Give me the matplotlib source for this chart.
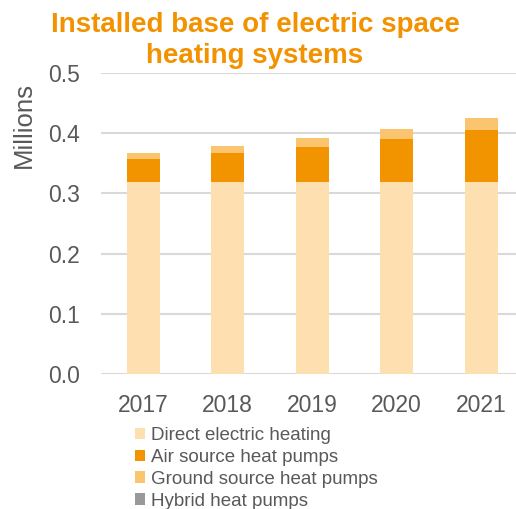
import matplotlib
matplotlib.use("Agg")
import matplotlib.pyplot as plt
import numpy as np

plt.rcParams['font.family'] = ['Liberation Sans', 'DejaVu Sans']

years = ["2017", "2018", "2019", "2020", "2021"]
series_names = ["Direct electric heating", "Air source heat pumps",
                "Ground source heat pumps", "Hybrid heat pumps"]
direct_electric = [0.318, 0.318, 0.318, 0.318, 0.318]
air_source = [0.039, 0.049, 0.0595, 0.072, 0.087]
ground_source = [0.0105, 0.012, 0.0145, 0.017, 0.0195]
hybrid = [0.0, 0.0, 0.0, 0.0, 0.0]
y_ticks = [0.0, 0.1, 0.2, 0.3, 0.4, 0.5]
title_lines = ["Installed base of electric space", "heating systems"]

colors = ["#FDDFB0", "#F29400", "#FBC46E", "#999999"]
text_grey = "#595959"
title_orange = "#F39200"

W, H = 516, 509
fig = plt.figure(figsize=(W / 100, H / 100), dpi=100)
ax = fig.add_axes([101 / W, (H - 374.3) / H, 422.5 / W, (374.3 - 72.7) / H])

x = np.arange(len(years))
bottom = np.zeros(len(years))
for name, vals, col in zip(series_names,
                           [direct_electric, air_source, ground_source, hybrid],
                           colors):
    ax.bar(x, vals, width=0.39, bottom=bottom, color=col, label=name, zorder=3)
    bottom += np.array(vals)

ax.set_xlim(-0.5, 4.5)
ax.set_ylim(0, 0.5)
ax.set_yticks(y_ticks)
ax.set_yticklabels([f"{v:.1f}" for v in y_ticks])
ax.set_xticks(x)
ax.set_xticklabels(years)
ax.grid(axis="y", color="#D9D9D9", linewidth=1.5, zorder=0)
for s in ax.spines.values():
    s.set_visible(False)
ax.tick_params(axis="both", length=0, labelsize=16.5, colors=text_grey)
ax.tick_params(axis="y", pad=15)
ax.tick_params(axis="x", pad=14)

fig.text(24 / W, 1 - 125 / H, "Millions", rotation=90, ha="center", va="center",
         fontsize=18.5, color=text_grey)

# Two-line title, each line centred on its own
for line, baseline in zip(title_lines, [32, 63]):
    fig.text(255 / W, 1 - baseline / H, line, ha="center", va="baseline",
             fontsize=20, fontweight="bold", color=title_orange)

leg = ax.legend(loc="upper left", bbox_to_anchor=(135 / W, 1 - 427 / H),
                bbox_transform=fig.transFigure, frameon=False,
                fontsize=13.5, labelcolor=text_grey,
                handlelength=0.55, handleheight=0.55, handletextpad=0.3,
                labelspacing=0.26, borderpad=0, borderaxespad=0)

fig.savefig("out.png", dpi=100)
